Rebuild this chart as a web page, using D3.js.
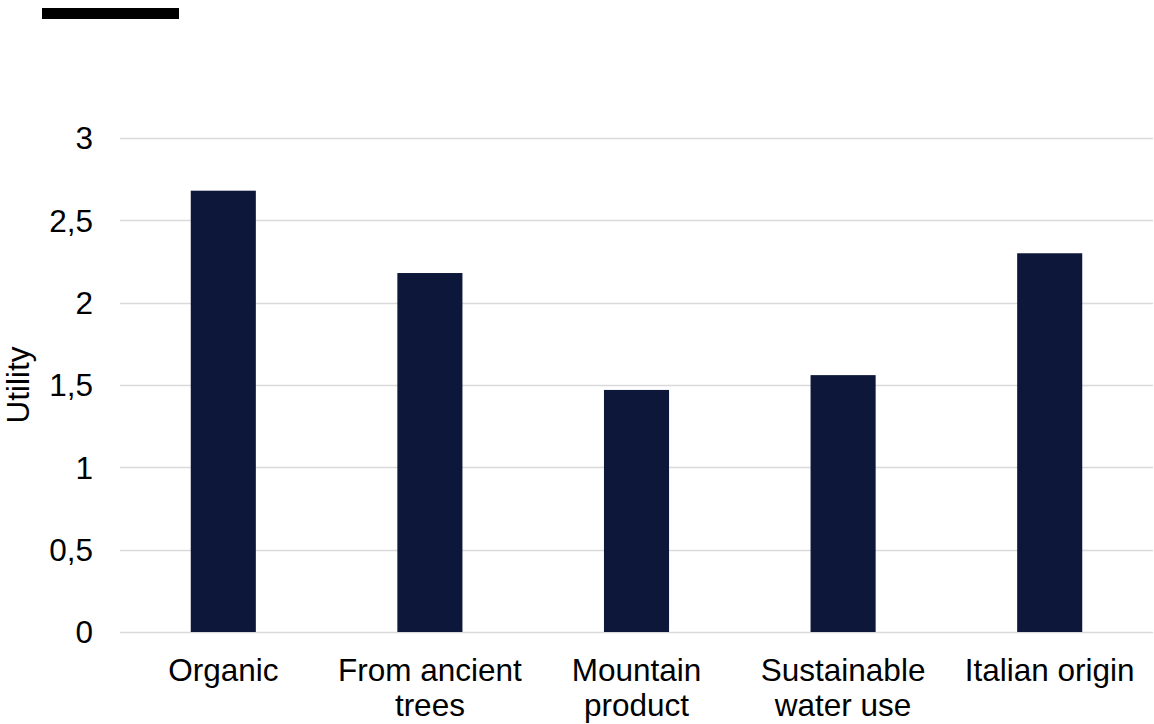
<!DOCTYPE html>
<html>
<head>
<meta charset="utf-8">
<script src="https://cdn.jsdelivr.net/npm/d3@7"></script>
<style>
  body { margin: 0; background: #fff; }
  svg { display: block; font-family: "Liberation Sans", Arial, sans-serif; }
</style>
</head>
<body>
<svg id="chart" width="1154" height="724" viewBox="0 0 1154 724"></svg>
<script>
const categories = [["Organic"], ["From ancient", "trees"], ["Mountain", "product"], ["Sustainable", "water use"], ["Italian origin"]]
const utility = [2.68, 2.18, 1.47, 1.56, 2.30]
const yTicks = [0, 0.5, 1, 1.5, 2, 2.5, 3]

const svg = d3.select("#chart")
const plotLeft = 120, plotRight = 1153, plotTop = 138, plotBottom = 632
const fontSize = 31.5

// black title stub top-left
svg.append("rect")
    .attr("x", 42).attr("y", 8)
    .attr("width", 137).attr("height", 11)
    .attr("fill", "#000")

const x = d3.scaleBand()
    .domain(d3.range(categories.length))
    .range([plotLeft, plotRight])
    .paddingInner(0.685)
    .paddingOuter(0.3425)

const y = d3.scaleLinear()
    .domain([0, 3])
    .range([plotBottom, plotTop])

// gridlines
svg.append("g")
    .selectAll("line")
    .data(yTicks)
    .enter()
    .append("line")
    .attr("x1", plotLeft).attr("x2", plotRight)
    .attr("y1", d => Math.round(y(d)) + 0.5)
    .attr("y2", d => Math.round(y(d)) + 0.5)
    .attr("stroke", "#d9d9d9")
    .attr("stroke-width", 1.5)

// y tick labels
const fmt = d => String(d).replace(".", ",")
svg.append("g")
    .selectAll("text")
    .data(yTicks)
    .enter()
    .append("text")
    .attr("x", 93)
    .attr("y", d => y(d))
    .attr("dy", "0.36em")
    .attr("text-anchor", "end")
    .attr("font-size", fontSize)
    .attr("fill", "#000")
    .text(fmt)

// bars
svg.append("g")
    .selectAll("rect")
    .data(utility)
    .enter()
    .append("rect")
    .attr("x", (d, i) => x(i))
    .attr("width", x.bandwidth())
    .attr("y", d => y(d))
    .attr("height", d => y(0) - y(d))
    .attr("fill", "#0c173a")

// x labels
const xl = svg.append("g")
    .selectAll("text")
    .data(categories)
    .enter()
    .append("text")
    .attr("x", (d, i) => x(i) + x.bandwidth() / 2)
    .attr("y", 681)
    .attr("text-anchor", "middle")
    .attr("font-size", fontSize)
    .attr("fill", "#000")
xl.selectAll("tspan")
    .data(d => d)
    .enter()
    .append("tspan")
    .attr("x", function () { return d3.select(this.parentNode).attr("x") })
    .attr("dy", (d, i) => i === 0 ? 0 : 35)
    .text(d => d)

// y axis title
svg.append("text")
    .attr("transform", `translate(29,${(plotTop + plotBottom) / 2}) rotate(-90)`)
    .attr("text-anchor", "middle")
    .attr("font-size", fontSize)
    .attr("fill", "#000")
    .text("Utility")
</script>
</body>
</html>
